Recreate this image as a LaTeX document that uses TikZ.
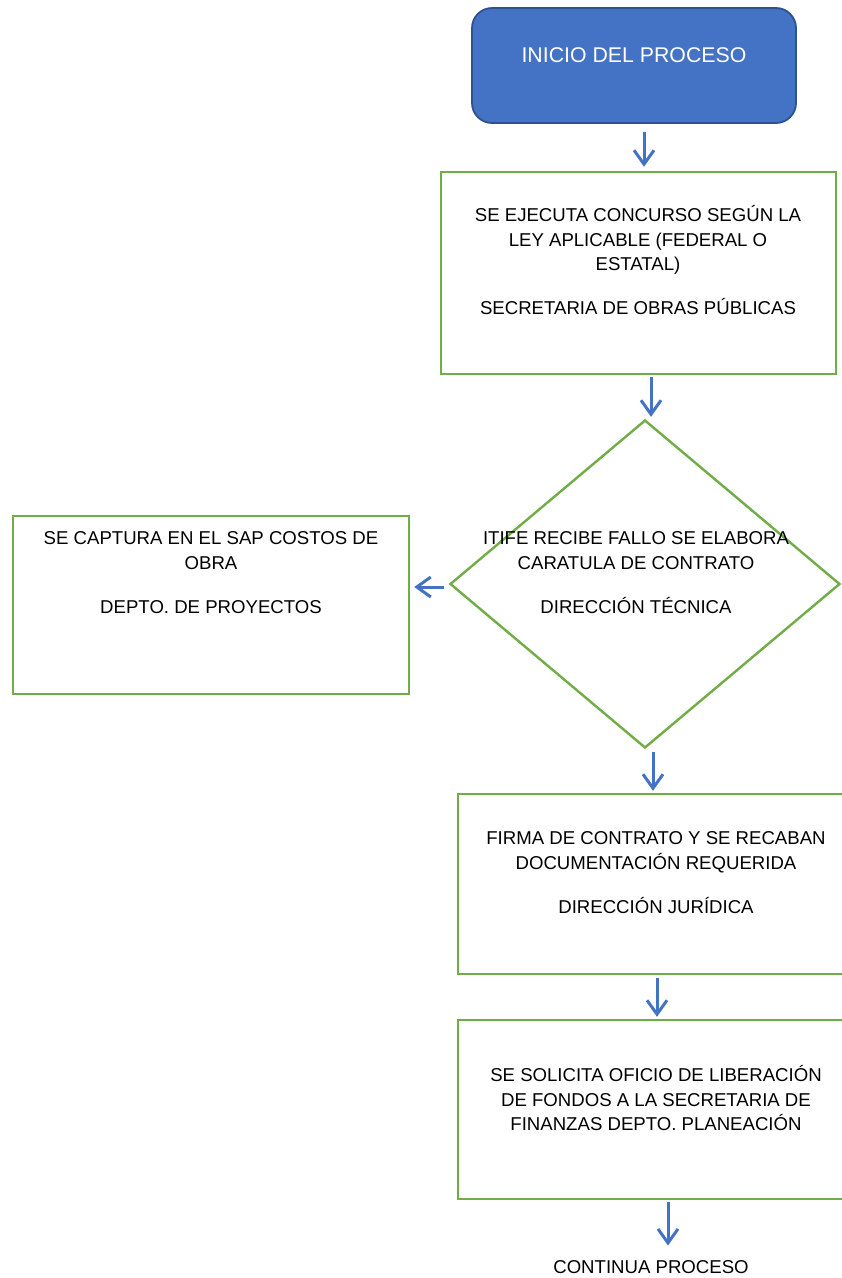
\documentclass[tikz,border=0pt]{standalone}
\usepackage{fontspec}
\setmainfont{Liberation Sans}
\usetikzlibrary{arrows.meta,shapes.geometric,calc}
\definecolor{bfill}{HTML}{4472C4}
\definecolor{bdraw}{HTML}{2F528F}
\definecolor{gline}{HTML}{70AD47}
\begin{document}
\begin{tikzpicture}[x=1pt,y=-1pt,
  box/.style={draw=gline,line width=2.4pt,rectangle,inner sep=0,fill=white},
  startbox/.style={draw=bdraw,fill=bfill,line width=1.8pt,rounded corners=20pt,inner sep=0},
  txt/.style={font=\fontsize{18.6}{24.5}\selectfont,inner sep=0,anchor=base},
  arr/.style={draw=bfill,line width=3pt,-{Straight Barb[length=14pt,width=20pt]}}]
\useasboundingbox (0,0) rectangle (842,1278);
\clip (0,0) rectangle (842,1278);
% shapes
\node[startbox,minimum width=324pt,minimum height=115pt] (start) at (634,65.5) {};
\node[box,minimum width=395pt,minimum height=202pt] (b2) at (638.5,273) {};
\node[box,diamond,minimum width=390pt,minimum height=328pt] (dia) at (645,584) {};
\node[box,minimum width=396pt,minimum height=178pt] (lb) at (211,605) {};
\node[box,minimum width=422pt,minimum height=180pt] (b4) at (669,884) {};
\node[box,minimum width=422pt,minimum height=179pt] (b5) at (669,1109.5) {};
% texts
\node[txt,text=white,font=\fontsize{21.3}{26}\selectfont] (t1) at (634,62.6) {INICIO DEL PROCESO};
\node[txt] (t2) at (638,221.7) {\begin{tabular}[t]{@{}c@{}}SE EJECUTA CONCURSO SEGÚN LA\\LEY APLICABLE (FEDERAL O\\ESTATAL)\\[19.5pt]SECRETARIA DE OBRAS PÚBLICAS\end{tabular}};
\node[txt] (t3) at (211,544.7) {\begin{tabular}[t]{@{}c@{}}SE CAPTURA EN EL SAP COSTOS DE\\OBRA\\[20pt]DEPTO. DE PROYECTOS\end{tabular}};
\node[txt] (t4) at (636,544.7) {\begin{tabular}[t]{@{}c@{}}ITIFE RECIBE FALLO SE ELABORA\\CARATULA DE CONTRATO\\[20pt]DIRECCIÓN TÉCNICA\end{tabular}};
\node[txt] (t5) at (656,844.7) {\begin{tabular}[t]{@{}c@{}}FIRMA DE CONTRATO Y SE RECABAN\\DOCUMENTACIÓN REQUERIDA\\[20pt]DIRECCIÓN JURÍDICA\end{tabular}};
\node[txt] (t6) at (656,1081.7) {\begin{tabular}[t]{@{}c@{}}SE SOLICITA OFICIO DE LIBERACIÓN\\DE FONDOS A LA SECRETARIA DE\\FINANZAS DEPTO. PLANEACIÓN\end{tabular}};
\node[txt] (cont) at (651,1273.7) {CONTINUA PROCESO};
% arrows
\draw[arr] ($(start.south)+(10,8)$) -- ($(b2.north)+(5.5,-4)$);
\draw[arr] ($(b2.south)+(12.5,2)$) -- ($(dia.north)+(6,-2)$);
\draw[arr] ($(dia.west)+(-5,3)$) coordinate (p) -- ($(p -| lb.east)+(4,0)$);
\draw[arr] ($(dia.south)+(8,3)$) -- ($(b4.north)+(-16,-2)$);
\draw[arr] ($(b4.south)+(-12,3)$) -- ($(b5.north)+(-12,-2)$);
\draw[arr] ($(b5.south)+(-1,2)$) -- ($(cont.north)+(17,-15)$);
\end{tikzpicture}
\end{document}
